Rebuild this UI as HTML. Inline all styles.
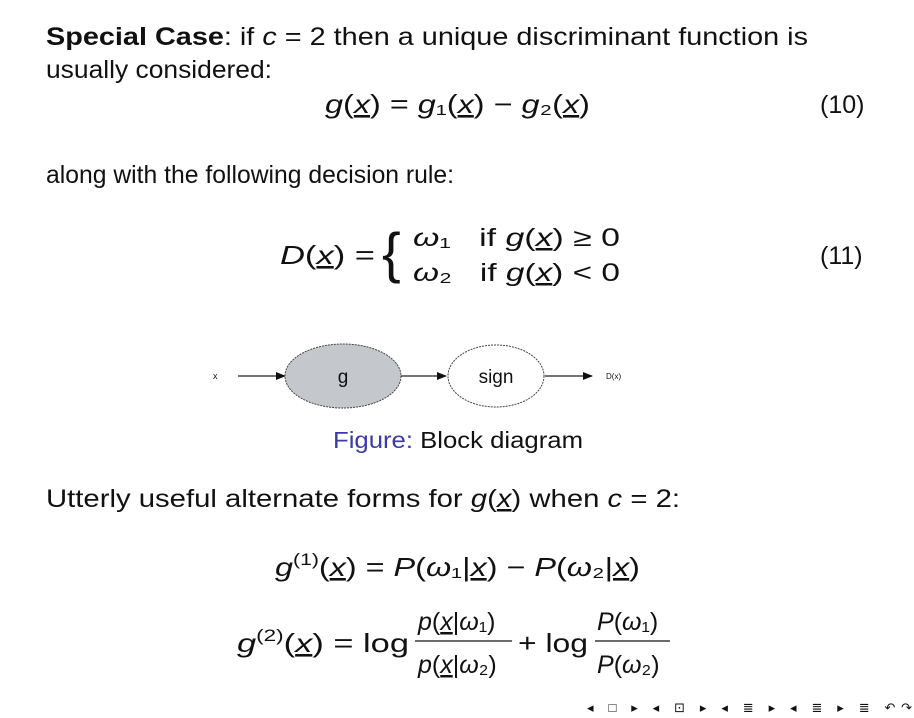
<!DOCTYPE html>
<html><head><meta charset="utf-8"><style>
html,body{margin:0;padding:0;background:#fff;}
svg{display:block;}
text{font-family:"Liberation Sans","DejaVu Sans",sans-serif;fill:#111;}
.i{font-style:italic;}
.u{text-decoration:underline;}
</style></head><body>
<svg width="914" height="718" viewBox="0 0 914 718" xmlns="http://www.w3.org/2000/svg">
<text x="46" y="45" font-size="25" textLength="762" lengthAdjust="spacingAndGlyphs"><tspan font-weight="bold">Special Case</tspan>: if <tspan class="i">c</tspan> = 2 then a unique discriminant function is</text>
<text x="46" y="78" font-size="25" textLength="226" lengthAdjust="spacingAndGlyphs">usually considered:</text>
<text x="325" y="113" font-size="26" textLength="265" lengthAdjust="spacingAndGlyphs"><tspan class="i">g</tspan>(<tspan class="i u">x</tspan>) = <tspan class="i">g</tspan>₁(<tspan class="i u">x</tspan>) − <tspan class="i">g</tspan>₂(<tspan class="i u">x</tspan>)</text>
<text x="820" y="113" font-size="25">(10)</text>
<text x="46" y="183" font-size="25" textLength="408" lengthAdjust="spacingAndGlyphs">along with the following decision rule:</text>
<text x="280" y="264" font-size="26" textLength="95" lengthAdjust="spacingAndGlyphs"><tspan class="i">D</tspan>(<tspan class="i u">x</tspan>) =</text>
<text x="382" y="272" font-size="56" font-family="DejaVu Sans">{</text>
<text x="413" y="246" font-size="25" textLength="207" lengthAdjust="spacingAndGlyphs"><tspan class="i">ω</tspan>₁  <tspan dx="14">if</tspan> <tspan class="i">g</tspan>(<tspan class="i u">x</tspan>) ≥ 0</text>
<text x="413" y="281" font-size="25" textLength="207" lengthAdjust="spacingAndGlyphs"><tspan class="i">ω</tspan>₂  <tspan dx="14">if</tspan> <tspan class="i">g</tspan>(<tspan class="i u">x</tspan>) &lt; 0</text>
<text x="820" y="264" font-size="25">(11)</text>
<defs><marker id="a" markerWidth="10" markerHeight="8" refX="9" refY="4" orient="auto" markerUnits="userSpaceOnUse"><path d="M0,0 L10,4 L0,8z" fill="#111"/></marker></defs>
<text x="213" y="379" font-size="9">x</text>
<line x1="238" y1="376" x2="285" y2="376" stroke="#222" stroke-width="1.2" marker-end="url(#a)"/>
<ellipse cx="343" cy="376" rx="58" ry="32" fill="#c4c8cc" stroke="#444" stroke-dasharray="2 1"/>
<text x="343" y="383" font-size="19" text-anchor="middle" fill="#333">g</text>
<line x1="401" y1="376" x2="446" y2="376" stroke="#222" stroke-width="1.2" marker-end="url(#a)"/>
<ellipse cx="496" cy="376" rx="48" ry="31" fill="#fff" stroke="#444" stroke-dasharray="2 1"/>
<text x="496" y="383" font-size="19" text-anchor="middle" fill="#333">sign</text>
<line x1="545" y1="376" x2="592" y2="376" stroke="#222" stroke-width="1.2" marker-end="url(#a)"/>
<text x="606" y="379" font-size="8">D(x)</text>
<text x="333" y="448" font-size="23" textLength="250" lengthAdjust="spacingAndGlyphs"><tspan fill="#3b3ba8">Figure:</tspan> Block diagram</text>
<text x="46" y="507" font-size="25" textLength="634" lengthAdjust="spacingAndGlyphs">Utterly useful alternate forms for <tspan class="i">g</tspan>(<tspan class="i u">x</tspan>) when <tspan class="i">c</tspan> = 2:</text>
<text x="275" y="576" font-size="26" textLength="365" lengthAdjust="spacingAndGlyphs"><tspan class="i">g</tspan><tspan font-size="17" dy="-11">(1)</tspan><tspan dy="11">(</tspan><tspan class="i u">x</tspan>) = <tspan class="i">P</tspan>(<tspan class="i">ω</tspan>₁|<tspan class="i u">x</tspan>) − <tspan class="i">P</tspan>(<tspan class="i">ω</tspan>₂|<tspan class="i u">x</tspan>)</text>
<text x="237" y="652" font-size="26" textLength="172" lengthAdjust="spacingAndGlyphs"><tspan class="i">g</tspan><tspan font-size="17" dy="-11">(2)</tspan><tspan dy="11">(</tspan><tspan class="i u">x</tspan>) = log</text>
<text x="418" y="630" font-size="25"><tspan class="i">p</tspan>(<tspan class="i u">x</tspan>|<tspan class="i">ω</tspan>₁)</text>
<line x1="415" y1="641" x2="512" y2="641" stroke="#111" stroke-width="1.3"/>
<text x="418" y="673" font-size="25"><tspan class="i">p</tspan>(<tspan class="i u">x</tspan>|<tspan class="i">ω</tspan>₂)</text>
<text x="518" y="652" font-size="26" textLength="70" lengthAdjust="spacingAndGlyphs">+ log</text>
<text x="597" y="630" font-size="25"><tspan class="i">P</tspan>(<tspan class="i">ω</tspan>₁)</text>
<line x1="595" y1="641" x2="670" y2="641" stroke="#111" stroke-width="1.3"/>
<text x="597" y="673" font-size="25"><tspan class="i">P</tspan>(<tspan class="i">ω</tspan>₂)</text>
<text x="587" y="712" font-size="13" fill="#d4d4e0" textLength="325" lengthAdjust="spacing">◂ □ ▸ ◂ ⊡ ▸ ◂ ≣ ▸ ◂ ≣ ▸ ≣ ↶↷</text>
</svg>
</body></html>
